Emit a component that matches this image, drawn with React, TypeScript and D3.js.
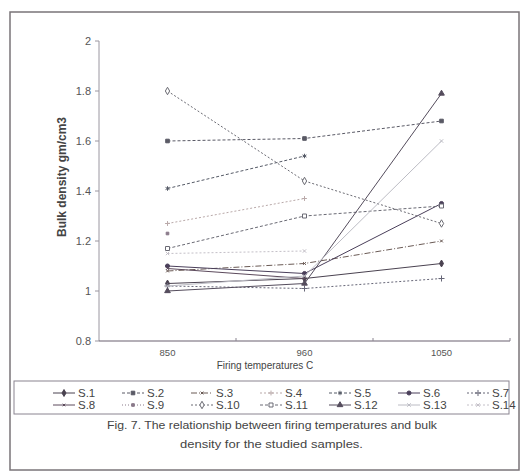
import React from 'react';
import * as d3 from 'd3';

// firing temperatures (x categories)
const temps = ['850', '960', '1050'];
const yTicks = [0.8, 1, 1.2, 1.4, 1.6, 1.8, 2];

const sampleNames = ['S.1', 'S.2', 'S.3', 'S.4', 'S.5', 'S.6', 'S.7', 'S.8', 'S.9', 'S.10', 'S.11', 'S.12', 'S.13', 'S.14'];

// bulk density gm/cm3 at 850, 960, 1050 (null = not measured)
const s1 = [1.03, 1.05, 1.11];
const s2 = [1.6, 1.61, 1.68];
const s3 = [1.08, 1.11, 1.2];
const s4 = [1.27, 1.37, null];
const s5 = [1.41, 1.54, null];
const s6 = [1.1, 1.07, 1.35];
const s7 = [1.02, 1.01, 1.05];
const s8 = [1.09, 1.05, null];
const s9 = [1.23, null, null];
const s10 = [1.8, 1.44, 1.27];
const s11 = [1.17, 1.3, 1.34];
const s12 = [1.0, 1.03, 1.79];
const s13 = [1.02, 1.06, 1.6];
const s14 = [1.15, 1.16, null];

const seriesValues = [s1, s2, s3, s4, s5, s6, s7, s8, s9, s10, s11, s12, s13, s14];

// line look for each sample
const styles = [
  { color: '#4a4250', dash: null, symbol: d3.symbolDiamond, size: 14, fill: true },
  { color: '#5a5a66', dash: '3,2', symbol: d3.symbolSquare, size: 13, fill: true },
  { color: '#6a5a55', dash: '6,2,1,2', symbol: d3.symbolTimes, size: 6, fill: false },
  { color: '#b9a9a9', dash: '2,2', symbol: d3.symbolPlus, size: 9, fill: false },
  { color: '#555a66', dash: '3,2', symbol: d3.symbolAsterisk, size: 14, fill: false },
  { color: '#4a3f5a', dash: null, symbol: d3.symbolCircle, size: 13, fill: true },
  { color: '#666677', dash: '2,2', symbol: d3.symbolPlus, size: 14, fill: false },
  { color: '#5c4a5c', dash: null, symbol: d3.symbolTimes, size: 5, fill: false },
  { color: '#8a7a8a', dash: '1,2', symbol: d3.symbolSquare, size: 7, fill: true },
  { color: '#6a6a72', dash: '2,2', symbol: d3.symbolDiamond, size: 16, fill: false },
  { color: '#6a6a74', dash: '3,2', symbol: d3.symbolSquare, size: 16, fill: false },
  { color: '#544c5c', dash: null, symbol: d3.symbolTriangle, size: 14, fill: true },
  { color: '#bcbcc4', dash: null, symbol: d3.symbolTimes, size: 9, fill: false },
  { color: '#c4c0c8', dash: '2,2', symbol: d3.symbolTimes, size: 9, fill: false },
];

const W = 523;
const H = 474;
const margin = { left: 99, right: 13, top: 41, bottom: 133 };

const x = d3.scaleBand().domain(temps).range([margin.left, W - margin.right]);
const y = d3.scaleLinear().domain([0.8, 2]).range([H - margin.bottom, margin.top]);

const font = "'Liberation Sans', Arial, sans-serif";

const line = d3
  .line()
  .defined(d => d[1] != null)
  .x(d => x(d[0]) + x.bandwidth() / 2)
  .y(d => y(d[1]));

function Marker({ st, cx, cy }) {
  const path = d3.symbol().type(st.symbol).size(st.size)();
  return (
    <path
      d={path}
      transform={`translate(${cx},${cy})`}
      fill={st.fill ? st.color : '#fff'}
      stroke={st.color}
      strokeWidth={1}
    />
  );
}

export default function App() {
  const x0 = margin.left;
  const x1 = W - margin.right;
  const yBase = y(0.8);
  const bandEdges = temps.map(t => x(t) + x.bandwidth());

  return (
    <svg width={W} height={H} style={{ position: 'absolute', left: 0, top: 0, background: '#fff' }}>
      {/* outer frame */}
      <rect x={10} y={12} width={509} height={458} fill="none" stroke="#7a7478" strokeWidth={1.5} />

      {/* y axis */}
      <line x1={x0} x2={x0} y1={y(2)} y2={yBase} stroke="#9a96a0" />
      {yTicks.map(t => (
        <g key={t}>
          <line x1={x0 - 4} x2={x0} y1={y(t)} y2={y(t)} stroke="#9a96a0" />
          <text x={x0 - 8} y={y(t) + 4} textAnchor="end" fontSize={11} fontFamily={font} fill="#555">
            {t}
          </text>
        </g>
      ))}

      {/* x axis */}
      <line x1={x0} x2={x1} y1={yBase} y2={yBase} stroke="#6a6070" strokeWidth={1.2} />
      {bandEdges.map((bx, i) => (
        <line key={i} x1={bx} x2={bx} y1={yBase} y2={yBase - 3} stroke="#8a8490" />
      ))}
      {temps.map(t => (
        <text key={t} x={x(t) + x.bandwidth() / 2} y={yBase + 15} textAnchor="middle" fontSize={9.5} fontFamily={font} fill="#555">
          {t}
        </text>
      ))}
      <text x={265} y={yBase + 28} textAnchor="middle" fontSize={10} fontFamily={font} fill="#444">
        Firing temperatures C
      </text>

      {/* y label */}
      <text
        transform={`translate(66,${(y(2) + yBase) / 2 - 14}) rotate(-90)`}
        textAnchor="middle"
        fontSize={12}
        fontWeight="bold"
        fontFamily={font}
        fill="#444"
      >
        Bulk density gm/cm3
      </text>

      {/* series */}
      {seriesValues.map((vals, i) => {
        const st = styles[i];
        const pts = temps.map((t, j) => [t, vals[j]]);
        return (
          <g key={sampleNames[i]}>
            <path d={line(pts)} fill="none" stroke={st.color} strokeWidth={1} strokeDasharray={st.dash || undefined} />
            {pts
              .filter(p => p[1] != null)
              .map(p => (
                <Marker key={p[0]} st={st} cx={x(p[0]) + x.bandwidth() / 2} cy={y(p[1])} />
              ))}
          </g>
        );
      })}

      {/* legend */}
      <rect x={14} y={381} width={495} height={33} fill="none" stroke="#8a8490" />
      {sampleNames.map((name, i) => {
        const col = i % 7;
        const row = Math.floor(i / 7);
        const tx = 78 + col * 69;
        const ty = 397 + row * 12;
        const st = styles[i];
        return (
          <g key={name}>
            <line x1={tx - 25} x2={tx - 3} y1={ty - 4} y2={ty - 4} stroke={st.color} strokeDasharray={st.dash || undefined} />
            <Marker st={st} cx={tx - 14} cy={ty - 4} />
            <text x={tx} y={ty} fontSize={11.5} fontFamily={font} fill="#444">
              {name}
            </text>
          </g>
        );
      })}

      {/* caption */}
      <text x={107} y={429} fontSize={11} fontFamily={font} fill="#444" textLength={330} lengthAdjust="spacingAndGlyphs">
        Fig. 7. The relationship between firing temperatures and bulk
      </text>
      <text x={180} y={448} fontSize={11} fontFamily={font} fill="#444" textLength={183} lengthAdjust="spacingAndGlyphs">
        density for the studied samples.
      </text>
    </svg>
  );
}
